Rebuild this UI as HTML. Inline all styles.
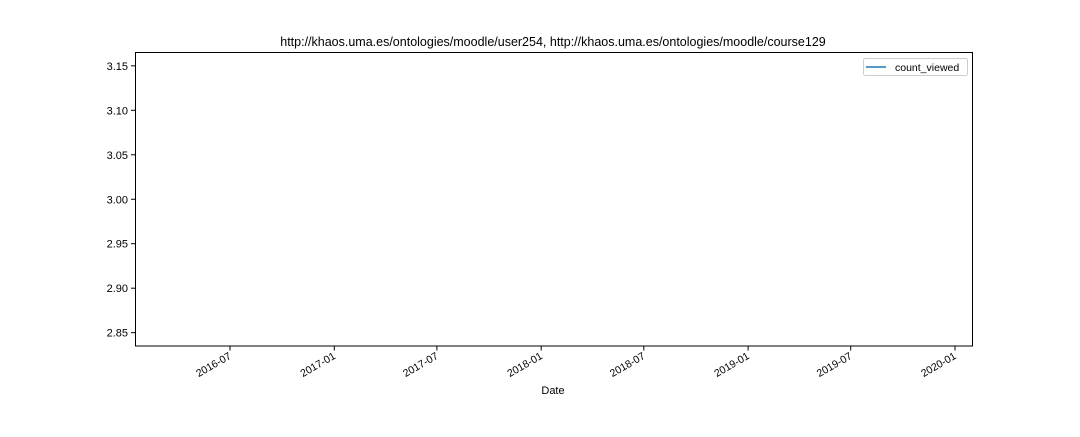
<!DOCTYPE html>
<html><head><meta charset="utf-8"><style>
body{margin:0;background:#fff;}
svg text{font-family:"Liberation Sans","DejaVu Sans",sans-serif;fill:#000;}
</style></head><body>
<svg width="1080" height="432" viewBox="0 0 1080 432" id="chart">
<rect width="1080" height="432" fill="#fff"/>
<text x="553" y="46" text-anchor="middle" font-size="12.5">http://khaos.uma.es/ontologies/moodle/user254, http://khaos.uma.es/ontologies/moodle/course129</text>
<g id="yticks"></g>
<g id="xticks"></g>
<g id="series"></g>
<rect x="135.5" y="52.5" width="837" height="293.5" fill="none" stroke="#000" stroke-width="1"/>
<text x="553" y="394" text-anchor="middle" font-size="11">Date</text>
<g>
<rect x="863.5" y="58.5" width="104" height="17" rx="2" fill="#fff" stroke="#ccc"/>
<line x1="866" y1="67" x2="886" y2="67" stroke="#1f77b4" stroke-width="1.5"/>
<text x="895" y="71" font-size="10.5">count_viewed</text>
</g>
</svg>
<script>
const yTicks=[3.15,3.10,3.05,3.00,2.95,2.90,2.85];
const xTicks=["2016-07","2017-01","2017-07","2018-01","2018-07","2019-01","2019-07","2020-01"];
const dates=["2018-03-15"];
const countViewed=[3];
const NS="http://www.w3.org/2000/svg";
const yMin=2.835,yMax=3.165,plotTop=52.5,plotBot=346;
function yScale(v){return plotBot-(v-yMin)/(yMax-yMin)*(plotBot-plotTop);}
const d0=Date.UTC(2016,6,1),d1=Date.UTC(2020,0,1);
function xScale(s){const p=s.split("-");const t=Date.UTC(+p[0],+p[1]-1,p[2]?+p[2]:1);return 230+(t-d0)/(d1-d0)*(955-230);}
function mk(tag,attrs,parent){const e=document.createElementNS(NS,tag);for(const k in attrs)e.setAttribute(k,attrs[k]);parent.appendChild(e);return e;}
const yg=document.getElementById("yticks");
yTicks.forEach(v=>{const yy=yScale(v);
const l=mk("line",{x1:131,x2:135.5,y1:yy,y2:yy,stroke:"#000"},yg);


const t=mk("text",{x:128,y:yy+4,"text-anchor":"end","font-size":"11"},yg);t.textContent=v.toFixed(2);

});
const xg=document.getElementById("xticks");
xTicks.forEach(s=>{const xx=xScale(s);
const l=mk("line",{x1:xx,x2:xx,y1:346,y2:350.5,stroke:"#000"},xg);


const t=mk("text",{x:xx+2,y:358,"text-anchor":"end","font-size":"10.5",transform:`rotate(-30 ${xx+2} 358)`},xg);t.textContent=s;

});
const sg=document.getElementById("series");
const pts=dates.map((d,i)=>xScale(d)+","+yScale(countViewed[i])).join(" ");
const pl=mk("polyline",{points:pts,fill:"none",stroke:"#1f77b4","stroke-width":1.5},sg);


</script>
</body></html>
